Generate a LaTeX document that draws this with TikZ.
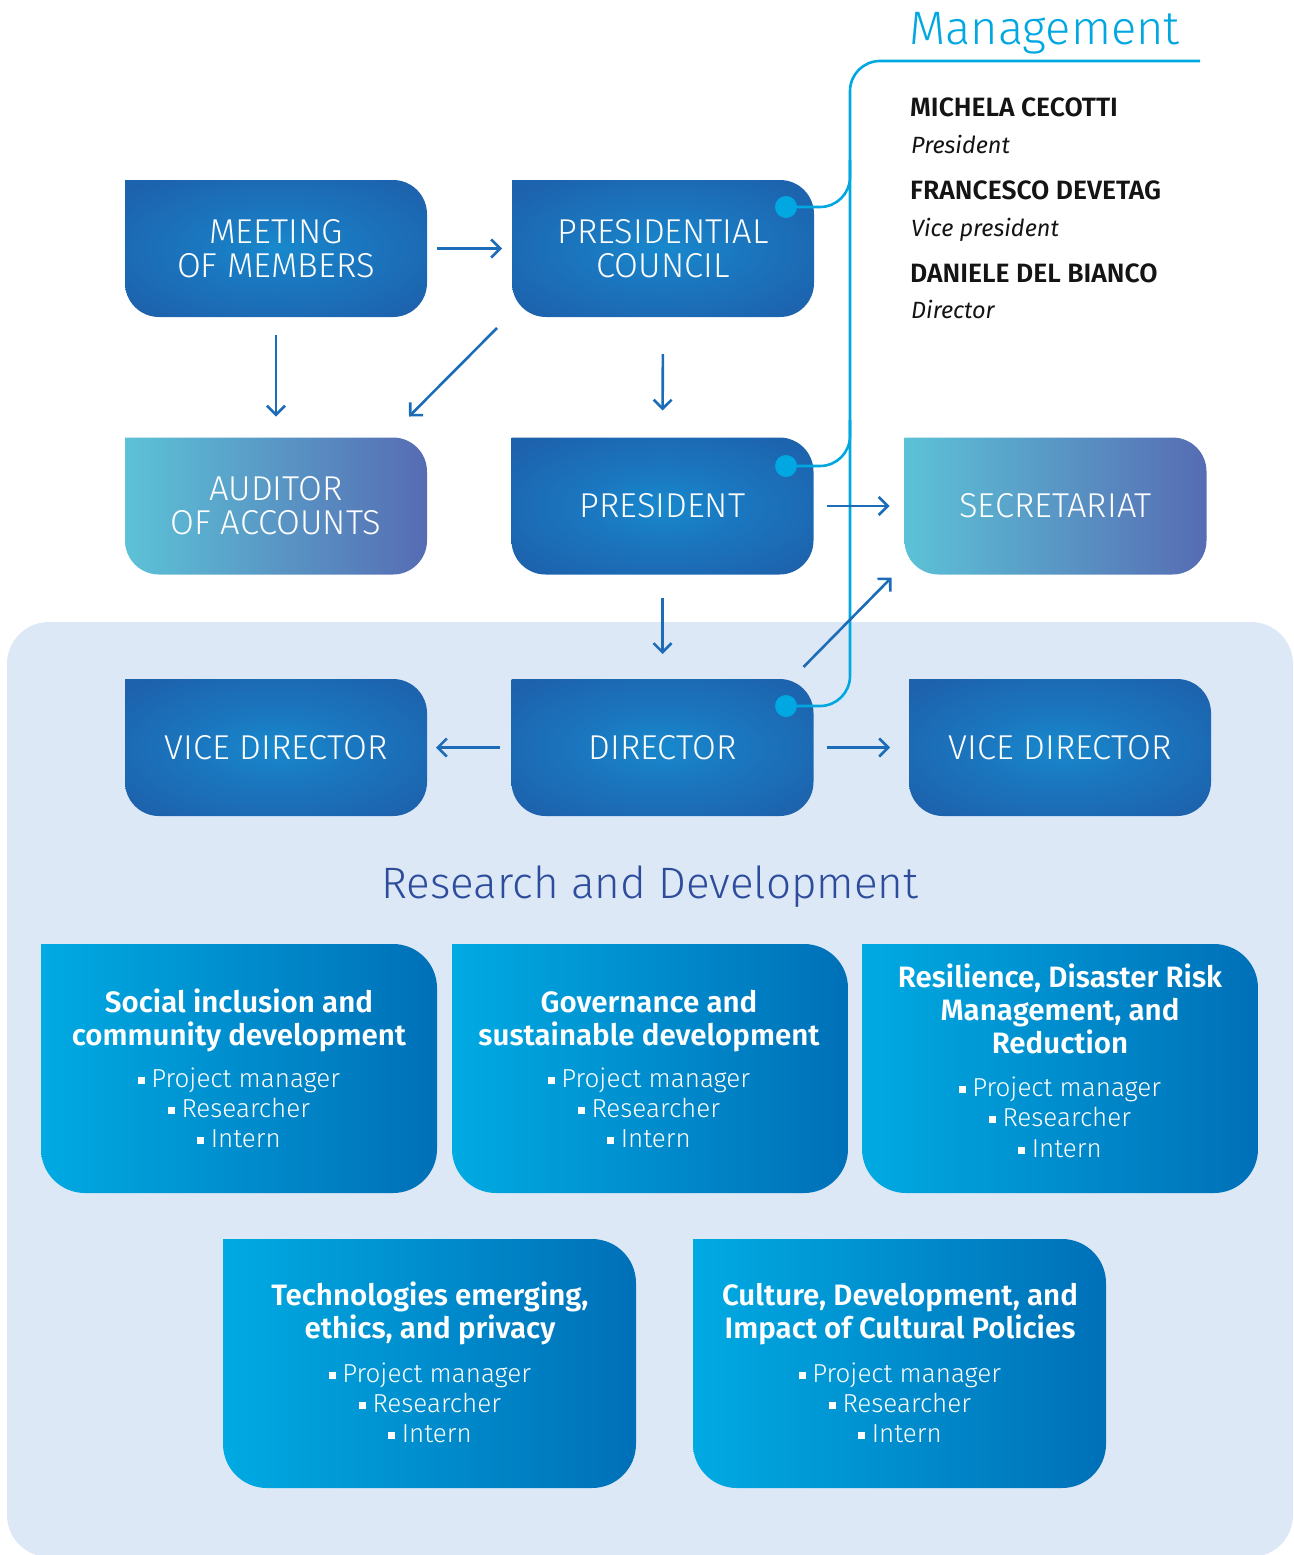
\documentclass[tikz,border=0pt]{standalone}
\usepackage{fontspec}
\setmainfont{Fira Sans}
\newfontfamily\lightfont{Fira Sans Light}
\newfontfamily\semifont{Fira Sans SemiBold}
\usetikzlibrary{arrows.meta,calc,backgrounds}
\definecolor{boxin}{HTML}{1889CD}
\definecolor{boxmid}{HTML}{1A78C0}
\definecolor{boxout}{HTML}{1D62AD}
\definecolor{tealL}{HTML}{5CC2D7}
\definecolor{tealR}{HTML}{566CB3}
\definecolor{rdL}{HTML}{00AAE2}
\definecolor{rdR}{HTML}{0070B8}
\definecolor{panel}{HTML}{DDE8F6}
\definecolor{arrowc}{HTML}{1D6CB8}
\definecolor{mgmt}{HTML}{00A7E1}
\definecolor{rdtitle}{HTML}{2D4D9C}
\definecolor{ink}{HTML}{141414}
\pgfdeclareradialshading{boxglow}{\pgfpoint{0bp}{0bp}}{color(0bp)=(boxin); color(12bp)=(boxmid); color(32bp)=(boxout); color(50bp)=(boxout)}
% box with sharp top-left corner and the three others rounded (y axis points down)
\newcommand\cornerbox[3]{\shade[#3] (#1.north west) -- ($(#1.north east)+(-#2,0)$) arc[start angle=-90,end angle=0,radius=#2] -- ($(#1.south east)+(0,-#2)$) arc[start angle=0,end angle=90,radius=#2] -- ($(#1.south west)+(#2,0)$) arc[start angle=90,end angle=180,radius=#2] -- cycle;}
\newcommand\bsq{\rule[0.13em]{0.27em}{0.27em}\hspace{0.25em}}
\tikzset{
  lbl/.style={text=white, font=\lightfont\fontsize{34.5}{34}\selectfont, align=center, inner sep=0pt, outer sep=0pt, minimum width=302pt, minimum height=137pt},
  rdbox/.style={inner sep=0pt, outer sep=0pt, minimum width=396pt, minimum height=249pt},
  rdwide/.style={inner sep=0pt, outer sep=0pt, minimum width=413pt, minimum height=249pt},
  ttl/.style={text=white, font=\semifont\fontsize{29.5}{33}\selectfont, anchor=base, inner sep=0pt},
  bul/.style={text=white, font=\lightfont\fontsize{26}{30}\selectfont, anchor=base, inner sep=0pt},
  nm/.style={text=ink, font=\semifont\fontsize{26.5}{30}\selectfont, anchor=base west, inner sep=0pt},
  rl/.style={text=ink, font=\itshape\fontsize{23.5}{30}\selectfont, anchor=base west, inner sep=0pt},
  arr/.style={draw=arrowc, line width=2.6pt, -{Straight Barb[length=9pt,width=18pt]}},
  mline/.style={draw=mgmt, line width=2.6pt},
  mdot/.style={circle, fill=mgmt, minimum size=22pt, inner sep=0pt},
}
\begin{document}
\begin{tikzpicture}[x=1pt,y=-1pt]
\useasboundingbox (0,0) rectangle (1293,1555);
% top boxes
\node[lbl] (mm) at (276,248.5) {MEETING\\OF MEMBERS};
\node[lbl] (pc) at (663,248.5) {PRESIDENTIAL\\COUNCIL};
\node[lbl] (au) at (276,506) {AUDITOR\\OF ACCOUNTS};
\node[lbl] (pr) at (662.5,506) {PRESIDENT};
\node[lbl] (se) at (1055.5,506) {SECRETARIAT};
\node[lbl] (vl) at (276,747.5) {VICE DIRECTOR};
\node[lbl] (di) at (662.5,747.5) {DIRECTOR};
\node[lbl] (vr) at (1060,747.5) {VICE DIRECTOR};
% R&D boxes
\node[rdbox] (r1) at (239,1068.5) {};
\node[rdbox] (r2) at (650,1068.5) {};
\node[rdbox] (r3) at (1060,1068.5) {};
\node[rdwide] (r4) at (429.5,1363.5) {};
\node[rdwide] (r5) at (899.5,1363.5) {};
% titles
\node[anchor=base west, inner sep=0pt, text=mgmt, font=\lightfont\fontsize{47}{50}\selectfont] (mgt) at (909,45) {Management};
\node[anchor=base, inner sep=0pt, text=rdtitle, font=\lightfont\fontsize{44}{50}\selectfont] (rdt) at (650,898) {Research and Development};
% names
\node[nm] (n1) at (910,116) {MICHELA CECOTTI};
\node[rl] (n1r) at (911,153) {President};
\node[nm] (n2) at (910,199) {FRANCESCO DEVETAG};
\node[rl] (n2r) at (911,236) {Vice president};
\node[nm] (n3) at (910,282) {DANIELE DEL BIANCO};
\node[rl] (n3r) at (911,318) {Director};
% R&D texts
\node[ttl] (t1a) at (239,1012) {Social inclusion and};
\node[ttl] (t1b) at (239,1045) {community development};
\node[bul] (b1a) at (239,1087) {\bsq Project manager};
\node[bul] (b1b) at (239,1117) {\bsq Researcher};
\node[bul] (b1c) at (239,1147) {\bsq Intern};
\node[ttl] (t2a) at (649,1012) {Governance and};
\node[ttl] (t2b) at (649,1045) {sustainable development};
\node[bul] (b2a) at (649,1087) {\bsq Project manager};
\node[bul] (b2b) at (649,1117) {\bsq Researcher};
\node[bul] (b2c) at (649,1147) {\bsq Intern};
\node[ttl] (t3a) at (1060,987) {Resilience, Disaster Risk};
\node[ttl] (t3b) at (1060,1020) {Management, and};
\node[ttl] (t3c) at (1060,1053) {Reduction};
\node[bul] (b3a) at (1060,1096) {\bsq Project manager};
\node[bul] (b3b) at (1060,1126) {\bsq Researcher};
\node[bul] (b3c) at (1060,1157) {\bsq Intern};
\node[ttl] (t4a) at (430,1305) {Technologies emerging,};
\node[ttl] (t4b) at (430,1338) {ethics, and privacy};
\node[bul] (b4a) at (430,1382) {\bsq Project manager};
\node[bul] (b4b) at (430,1412) {\bsq Researcher};
\node[bul] (b4c) at (430,1442) {\bsq Intern};
\node[ttl] (t5a) at (900,1305) {Culture, Development, and};
\node[ttl] (t5b) at (900,1338) {Impact of Cultural Policies};
\node[bul] (b5a) at (900,1382) {\bsq Project manager};
\node[bul] (b5b) at (900,1412) {\bsq Researcher};
\node[bul] (b5c) at (900,1442) {\bsq Intern};
% backgrounds
\begin{scope}[on background layer]
  \fill[panel, rounded corners=42pt] (7,622) rectangle (1293,1557);
  \foreach \b in {mm,pc,pr,vl,di,vr}{\cornerbox{\b}{34}{shading=boxglow}}
  \foreach \b in {au,se}{\cornerbox{\b}{34}{left color=tealL,right color=tealR}}
  \foreach \b in {r1,r2,r3,r4,r5}{\cornerbox{\b}{44}{left color=rdL,right color=rdR}}
\end{scope}
% management connectors
\node[mdot] (dpc) at (786,207) {};
\node[mdot] (dpr) at (786,466) {};
\node[mdot] (ddi) at (786,706) {};
\coordinate (mend) at (1200,61);
\draw[mline, rounded corners=30pt] (mend) -- (850,61) -- (850,706) -- (ddi);
\draw[mline, rounded corners=30pt] (dpc) -- (850,207) -- (850,160);
\draw[mline, rounded corners=30pt] (dpr) -- (850,466) -- (850,420);
% arrows
\draw[arr, shorten <=10pt, shorten >=10pt] (mm.east) -- (pc.west);
\draw[arr, shorten <=18pt, shorten >=21pt] (mm.south) -- (au.north);
\draw[arr] ($(pc.south west)+(-15,11)$) -- ($(au.north east)+(-18,-21)$);
\draw[arr, shorten <=37pt, shorten >=27pt] (pc.south) -- (pr.north);
\draw[arr, shorten <=13pt, shorten >=15pt] (pr.east) -- (se.west);
\draw[arr, shorten <=23pt, shorten >=25pt] (pr.south) -- (di.north);
\draw[arr] ($(di.north east)+(-10,-12)$) -- ($(se.south west)+(-13,3)$);
\draw[arr, shorten <=12pt, shorten >=9pt] (di.west) -- (vl.east);
\draw[arr, shorten <=13pt, shorten >=19pt] (di.east) -- (vr.west);
\end{tikzpicture}
\end{document}
